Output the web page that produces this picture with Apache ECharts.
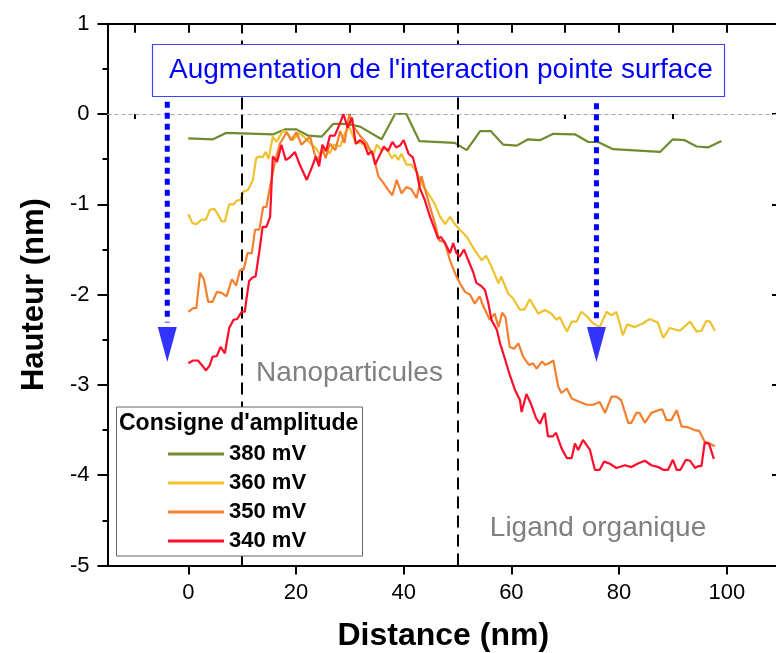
<!DOCTYPE html>
<html><head><meta charset="utf-8">
<script src="https://cdn.jsdelivr.net/npm/echarts@6/dist/echarts.min.js"></script>
<style>html,body{margin:0;padding:0;background:#fff}#c{width:776px;height:653px}</style>
</head><body><div id="c"></div>
<script>
// ---- data ----
const seriesNames = ['380 mV', '360 mV', '350 mV', '340 mV'];
const seriesColors = ['#6E8B2D', '#EEC22E', '#F47F2E', '#FF0D2A'];
const x380 = [0,4.6,7,15.8,18,20.1,22.3,24.8,26.9,29.4,31.9,35.9,38.4,40.5,42.9,49.5,51.7,54.2,56.2,58.5,61,63.1,65.3,67.8,71.8,74.3,76.1,78.9,87.6,90,92.2,94.4,96.5,99];
const y380 = [-0.27,-0.28,-0.21,-0.225,-0.17,-0.17,-0.24,-0.25,-0.11,-0.11,-0.14,-0.28,0,0,-0.3,-0.32,-0.4,-0.19,-0.19,-0.34,-0.35,-0.28,-0.29,-0.22,-0.225,-0.31,-0.31,-0.39,-0.42,-0.28,-0.29,-0.36,-0.37,-0.30];
const x360 = [0,0.8,1.5,2.5,3.3,4.0,4.8,5.4,6.2,6.8,7.6,8.4,9.0,9.7,10.2,11.1,12.0,12.6,13.2,13.8,14.4,14.9,15.7,16.4,17.6,18.5,19.4,20.6,21.4,22.6,23.7,24.5,25.4,26.3,27.0,28.2,29.1,29.9,31.0,31.9,32.8,33.7,34.4,35.0,35.9,36.8,37.8,38.4,39.0,39.6,40.5,41.4,42.4,43.6,44.8,45.8,46.7,47.7,48.6,49.5,50.4,51.7,53.2,54.5,55.3,56.3,57.6,58.1,59.4,60.3,61.6,62.5,63.4,65.0,66.2,67.4,68.4,69.0,70.3,71.2,72.1,73.0,74.0,75.2,76.4,77.7,78.6,79.5,80.7,81.5,82.9,84.4,85.7,87.2,88.2,89.4,91.3,93.2,94.4,95.3,96.2,96.9,97.8];
const y360 = [-1.11,-1.21,-1.22,-1.17,-1.17,-1.06,-1.05,-1.10,-1.19,-1.19,-1.00,-1.00,-0.96,-0.95,-0.86,-0.84,-0.73,-0.49,-0.47,-0.48,-0.42,-0.50,-0.25,-0.31,-0.18,-0.23,-0.29,-0.21,-0.25,-0.32,-0.38,-0.45,-0.40,-0.435,-0.34,-0.36,-0.21,-0.14,-0.31,-0.32,-0.35,-0.40,-0.45,-0.34,-0.40,-0.38,-0.49,-0.45,-0.51,-0.44,-0.56,-0.56,-0.64,-0.80,-0.90,-1.00,-1.13,-1.22,-1.14,-1.22,-1.28,-1.36,-1.51,-1.62,-1.57,-1.69,-1.875,-1.80,-1.99,-2.04,-2.17,-2.16,-2.05,-2.21,-2.17,-2.21,-2.28,-2.25,-2.41,-2.30,-2.30,-2.19,-2.24,-2.32,-2.36,-2.19,-2.23,-2.19,-2.45,-2.33,-2.36,-2.32,-2.27,-2.31,-2.48,-2.37,-2.40,-2.30,-2.41,-2.40,-2.29,-2.30,-2.40];
const x350 = [0,0.9,1.5,2.2,2.9,3.7,4.5,5.3,6.2,7.1,8.1,8.9,9.6,10.3,11.0,11.8,12.4,13.2,13.9,14.5,15.2,16.1,17.0,18.3,19.1,20.1,21.0,22.6,23.4,24.0,24.9,25.5,26.3,27.3,28.2,29.0,29.9,30.8,31.9,33.1,34.4,35.3,36.2,37.1,37.9,38.7,39.6,40.5,41.4,42.4,43.3,43.9,44.9,45.8,46.6,47.6,48.6,49.8,50.5,51.4,52.3,53.2,54.1,54.8,56.0,56.9,57.6,58.3,58.9,59.7,60.5,61.3,62.2,63.3,64.0,64.7,65.7,66.3,67.0,67.8,68.7,69.3,70.3,71.2,72.7,74.0,75.2,76.4,77.4,78.6,79.5,80.4,81.7,82.3,83.2,83.8,84.8,86.0,87.3,88.0,88.8,89.7,90.7,91.6,92.8,94.0,94.9,95.9,96.8,97.8];
const y350 = [-2.19,-2.15,-2.15,-1.76,-1.83,-2.08,-2.08,-1.97,-1.98,-2.02,-1.83,-1.90,-1.73,-1.72,-1.54,-1.54,-1.28,-1.28,-1.03,-1.03,-0.80,-0.53,-0.33,-0.20,-0.29,-0.20,-0.34,-0.25,-0.43,-0.53,-0.38,-0.49,-0.33,-0.40,-0.19,-0.32,0.0,-0.15,-0.24,-0.32,-0.47,-0.69,-0.76,-0.84,-0.90,-0.73,-0.88,-0.81,-0.83,-0.93,-0.69,-0.82,-1.03,-1.21,-1.40,-1.42,-1.62,-1.80,-1.88,-1.97,-2.00,-2.10,-2.02,-2.13,-2.28,-2.21,-2.36,-2.20,-2.25,-2.58,-2.60,-2.54,-2.69,-2.78,-2.76,-2.82,-2.74,-2.78,-2.76,-2.73,-3.02,-3.09,-3.04,-3.15,-3.19,-3.22,-3.22,-3.19,-3.31,-3.13,-3.13,-3.17,-3.42,-3.42,-3.31,-3.31,-3.42,-3.31,-3.28,-3.27,-3.39,-3.39,-3.28,-3.46,-3.47,-3.50,-3.51,-3.63,-3.65,-3.68];
const x340 = [0,0.9,1.8,2.5,3.3,4.0,4.5,5.3,6.0,6.8,7.6,8.4,9.1,9.9,10.5,10.8,11.3,11.9,12.5,13.2,13.8,14.5,15.2,15.7,16.5,17.3,18.1,18.9,19.8,20.7,22.0,22.9,23.7,24.3,24.9,25.6,26.3,27.2,28.2,28.8,29.6,30.4,31.1,31.9,32.7,33.4,34.1,34.7,35.6,36.3,37.1,37.9,38.6,39.3,40.0,40.9,41.7,42.4,43.0,43.9,44.9,45.8,46.4,46.9,47.7,48.6,49.2,49.8,50.4,51.2,52.0,52.9,53.5,54.3,55.1,55.7,56.3,57.3,57.9,58.8,59.7,60.7,61.6,61.9,62.8,63.7,64.6,65.3,66.2,66.8,67.7,68.3,69.3,70.3,71.2,71.8,72.4,73.3,74.0,74.6,75.5,76.4,77.2,78.2,79.5,81.1,82.3,83.5,84.8,86.0,87.3,88.2,89.1,90.0,90.7,91.4,92.4,93.2,94.1,94.7,95.3,95.9,96.7,97.6];
const y340 = [-2.76,-2.73,-2.73,-2.78,-2.84,-2.78,-2.69,-2.68,-2.58,-2.65,-2.37,-2.28,-2.27,-2.19,-2.19,-2.05,-1.85,-1.81,-1.80,-1.52,-1.25,-1.25,-1.14,-0.47,-0.53,-0.34,-0.51,-0.48,-0.42,-0.56,-0.73,-0.60,-0.47,-0.58,-0.34,-0.41,-0.24,-0.24,-0.10,0.0,-0.15,-0.04,-0.33,-0.29,-0.33,-0.45,-0.41,-0.56,-0.45,-0.36,-0.41,-0.31,-0.37,-0.35,-0.29,-0.44,-0.48,-0.64,-0.82,-0.95,-1.14,-1.28,-1.38,-1.36,-1.43,-1.54,-1.43,-1.54,-1.58,-1.50,-1.62,-1.75,-1.87,-1.90,-1.95,-2.09,-2.28,-2.39,-2.54,-2.71,-2.89,-3.06,-3.17,-3.30,-3.10,-3.22,-3.37,-3.43,-3.31,-3.57,-3.57,-3.53,-3.70,-3.81,-3.81,-3.65,-3.72,-3.61,-3.67,-3.72,-3.94,-3.94,-3.85,-3.87,-3.92,-3.89,-3.91,-3.87,-3.84,-3.89,-3.91,-3.94,-3.94,-3.83,-3.94,-3.94,-3.83,-3.84,-3.92,-3.90,-3.90,-3.64,-3.65,-3.82];
const xTickLabels = [0, 20, 40, 60, 80, 100];
const xMinorTicks = [-10, 10, 30, 50, 70, 90];
const xAllTicks = [-10, 0, 10, 20, 30, 40, 50, 60, 70, 80, 90, 100];
const regionBounds = [10, 50];
const arrowX = [-3.9, 75.8];
const arrowTopY = [0.136, 0.118];
const arrowShaftEndY = -2.31;
const arrowHeadY = -2.553;
const titleText = "Augmentation de l'interaction pointe surface";
const legendTitle = "Consigne d'amplitude";
const regionLabels = [{ text: 'Nanoparticules', x: 12.6, y: -2.87 }, { text: 'Ligand organique', x: 56.0, y: -4.585 }];

const FONT = 'Arial, "Liberation Sans", sans-serif';
const xs = [x380, x360, x350, x340];
const ys = [y380, y360, y350, y340];

const chart = echarts.init(document.getElementById('c'), null, { renderer: 'canvas' });

const dataSeries = seriesNames.map((n, i) => ({
  name: n, type: 'line', xAxisIndex: 0, yAxisIndex: 0,
  data: xs[i].map((x, k) => [x, ys[i][k]]),
  showSymbol: false, symbol: 'none', smooth: false, z: 3 + i,
  lineStyle: { color: seriesColors[i], width: 2.2 },
  itemStyle: { color: seriesColors[i] },
  silent: true, animation: false
}));

const arrowSeries = [];
arrowX.forEach((ax, i) => {
  arrowSeries.push({
    type: 'line', data: [[ax, arrowTopY[i]], [ax, arrowShaftEndY]], showSymbol: false, symbol: 'none',
    lineStyle: { color: '#0000FF', width: 5, type: [6, 5], cap: 'butt' }, silent: true, animation: false, z: 8
  });
  arrowSeries.push({
    type: 'scatter', data: [[ax, arrowHeadY]], symbol: 'triangle', symbolRotate: 180, symbolSize: [19, 35],
    itemStyle: { color: '#0000FF' }, silent: true, animation: false, z: 8
  });
});

const refSeries = {
  type: 'line', data: [], silent: true, animation: false, z: 1,
  markLine: {
    silent: true, symbol: 'none', animation: false, label: { show: false },
    data: [
      { yAxis: 0, lineStyle: { color: '#A6A6A6', width: 1, type: [4, 3] } },
      { xAxis: regionBounds[0], lineStyle: { color: '#000', width: 2, type: [12, 7] } },
      { xAxis: regionBounds[1], lineStyle: { color: '#000', width: 2, type: [12, 7] } }
    ]
  }
};

const XMIN = -15, XMAX = 109.7;
const axisLine = { show: true, onZero: false, lineStyle: { color: '#000', width: 2 } };

chart.setOption({
  animation: false,
  backgroundColor: '#fff',
  grid: { left: 107.5, right: -3, top: 23.7, bottom: 87.5, containLabel: false, outerBoundsMode: 'none' },
  xAxis: [
    { type: 'value', position: 'bottom', min: XMIN, max: XMAX, axisLine,
      axisTick: { show: true, inside: false, length: 9, customValues: xTickLabels, lineStyle: { color: '#000', width: 2 } },
      axisLabel: { show: true, customValues: xTickLabels, fontSize: 22, color: '#000', fontFamily: FONT, margin: 16 },
      splitLine: { show: false },
      name: 'Distance (nm)', nameLocation: 'middle', nameGap: 55,
      nameTextStyle: { fontSize: 32, fontWeight: 'bold', color: '#000', fontFamily: FONT } },
    { type: 'value', position: 'top', min: XMIN, max: XMAX, axisLine,
      axisTick: { show: true, inside: true, length: 9, customValues: xAllTicks, lineStyle: { color: '#000', width: 2 } },
      axisLabel: { show: false }, splitLine: { show: false } },
    { type: 'value', position: 'bottom', min: XMIN, max: XMAX, axisLine: { show: false },
      axisTick: { show: true, inside: false, length: 5, customValues: xMinorTicks, lineStyle: { color: '#000', width: 2 } },
      axisLabel: { show: false }, splitLine: { show: false } }
  ],
  yAxis: [
    { type: 'value', position: 'left', min: -5, max: 1, interval: 1, axisLine,
      axisTick: { show: true, inside: false, length: 10, lineStyle: { color: '#000', width: 2 } },
      minorTick: { show: true, splitNumber: 2, length: 5, lineStyle: { color: '#000', width: 2 } },
      axisLabel: { fontSize: 22, color: '#000', fontFamily: FONT, margin: 18 },
      splitLine: { show: false }, minorSplitLine: { show: false },
      name: 'Hauteur (nm)', nameLocation: 'middle', nameGap: 58, nameRotate: 90,
      nameTextStyle: { fontSize: 31, fontWeight: 'bold', color: '#000', fontFamily: FONT } },
    { type: 'value', position: 'right', min: -5, max: 1, interval: 1, axisLine,
      axisTick: { show: true, inside: true, length: 7, lineStyle: { color: '#000', width: 2 } },
      axisLabel: { show: false }, splitLine: { show: false } }
  ],
  legend: {
    data: seriesNames, orient: 'vertical', left: 168, top: 443, padding: 0,
    itemWidth: 56, itemHeight: 3, itemGap: 7, icon: 'rect', selectedMode: false, z: 60,
    textStyle: { fontSize: 22, fontWeight: 'bold', color: '#000', fontFamily: FONT, lineHeight: 22 }
  },
  series: [refSeries].concat(dataSeries, arrowSeries)
});

function drawGraphics() {
  const els = [
    { type: 'rect', shape: { x: 116.5, y: 407, width: 246, height: 149 }, style: { fill: '#fff', stroke: '#666', lineWidth: 1 }, z: 50 },
    { type: 'text', x: 119, y: 424, style: { text: legendTitle, font: 'bold 23px ' + FONT, fill: '#000', textVerticalAlign: 'middle', verticalAlign: 'middle' }, z: 60 },
    { type: 'rect', shape: { x: 152.5, y: 44.5, width: 572, height: 52 }, style: { fill: '#fff', stroke: '#3A46F5', lineWidth: 1.2 }, z: 50 },
    { type: 'text', x: 169, y: 70, style: { text: titleText, font: '28px ' + FONT, fill: '#0000FF', textVerticalAlign: 'middle', verticalAlign: 'middle' }, z: 60 }
  ];
  regionLabels.forEach(r => {
    const p = chart.convertToPixel({ xAxisIndex: 0, yAxisIndex: 0 }, [r.x, r.y]);
    els.push({ type: 'text', x: p[0], y: p[1], style: { text: r.text, font: '28px ' + FONT, fill: '#808080', textVerticalAlign: 'middle', verticalAlign: 'middle' }, z: 40 });
  });
  chart.setOption({ graphic: { elements: els } });
}
drawGraphics();
</script></body></html>
